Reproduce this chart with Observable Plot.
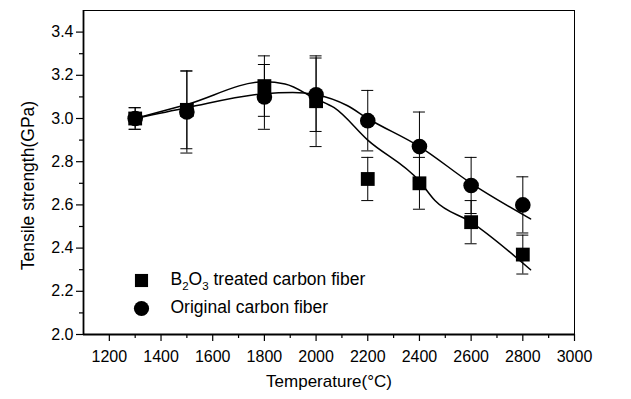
<!DOCTYPE html>
<html><head><meta charset="utf-8">
<script src="https://cdn.jsdelivr.net/npm/d3@7"></script>
<script src="https://cdn.jsdelivr.net/npm/@observablehq/plot@0.6"></script>
<style>
body{margin:0;background:#fff}
#chart svg{display:block}
</style>
</head><body><div id="chart"></div>
<script>
// Measured points (temperature in °C, tensile strength in GPa)
const temps = [1300, 1500, 1800, 2000, 2200, 2400, 2600, 2800];
const treatedStrength = [3.00, 3.04, 3.15, 3.08, 2.72, 2.70, 2.52, 2.37];
const treatedError    = [0.05, 0.18, 0.14, 0.21, 0.10, 0.12, 0.10, 0.09];
const originalStrength = [3.00, 3.03, 3.10, 3.11, 2.99, 2.87, 2.69, 2.60];
const originalError    = [0.05, 0.19, 0.15, 0.17, 0.14, 0.16, 0.13, 0.13];

// Fitted curves
const treatedFitT = [1300, 1500, 1800, 1880, 2000, 2070, 2200, 2400, 2460, 2600, 2830];
const treatedFitS = [3.00, 3.065, 3.17, 3.16, 3.09, 3.05, 2.90, 2.71, 2.62, 2.52, 2.30];
const originalFitT = [1300, 1500, 1800, 1910, 2000, 2120, 2200, 2400, 2600, 2830];
const originalFitS = [3.00, 3.05, 3.115, 3.12, 3.11, 3.06, 3.00, 2.87, 2.70, 2.535];

// Axes
const xMajor = [1200, 1400, 1600, 1800, 2000, 2200, 2400, 2600, 2800, 3000];
const xMinor = [1300, 1500, 1700, 1900, 2100, 2300, 2500, 2700, 2900];
const yMajor = [2.0, 2.2, 2.4, 2.6, 2.8, 3.0, 3.2, 3.4];
const yMinor = [2.1, 2.3, 2.5, 2.7, 2.9, 3.1, 3.3];
const xTitle = "Temperature(°C)";
const yTitle = "Tensile strength(GPa)";
const seriesNames = ["B2O3 treated carbon fiber", "Original carbon fiber"];
const seriesSymbols = ["square", "circle"];

const treated = temps.map((t, i) => ({t, s: treatedStrength[i], e: treatedError[i]}));
const original = temps.map((t, i) => ({t, s: originalStrength[i], e: originalError[i]}));
const points = [...treated, ...original];
const treatedFit = treatedFitT.map((t, i) => ({t, s: treatedFitS[i]}));
const originalFit = originalFitT.map((t, i) => ({t, s: originalFitS[i]}));
const legend = seriesNames.map((name, i) => ({name, symbol: seriesSymbols[i], i}));

const font = "'Liberation Sans', Arial, Helvetica, sans-serif";

const chart = Plot.plot({
  width: 631,
  height: 399,
  marginLeft: 83,
  marginRight: 57,
  marginTop: 10,
  marginBottom: 65,
  style: {fontFamily: font, fontSize: "16px", color: "black", background: "white"},
  x: {domain: [1100, 3000]},
  y: {domain: [2.0, 3.5]},
  marks: [
    Plot.frame({stroke: "black", strokeWidth: 1}),
    Plot.ruleX([1100], {strokeWidth: 1.8}),
    Plot.ruleY([2.0], {strokeWidth: 1.8}),
    Plot.axisX({ticks: xMajor, tickSize: 7, tickPadding: 9, tickFormat: d => String(d), label: null, fontSize: 16, strokeWidth: 1.2}),
    Plot.axisX({ticks: xMinor, tickSize: 4, tickFormat: () => "", label: null, strokeWidth: 1.2}),
    Plot.axisY({ticks: yMajor, tickSize: 7, tickPadding: 3, tickFormat: d => d.toFixed(1), label: null, fontSize: 16, strokeWidth: 1.2}),
    Plot.axisY({ticks: yMinor, tickSize: 4, tickFormat: () => "", label: null, strokeWidth: 1.2}),
    // error bars
    Plot.ruleX(points, {x: "t", y1: d => d.s - d.e, y2: d => d.s + d.e, stroke: "black", strokeWidth: 1}),
    Plot.ruleY(points, {y: d => d.s + d.e, x1: "t", x2: "t", insetLeft: -6, insetRight: -6, stroke: "black", strokeWidth: 1}),
    Plot.ruleY(points, {y: d => d.s - d.e, x1: "t", x2: "t", insetLeft: -6, insetRight: -6, stroke: "black", strokeWidth: 1}),
    // fitted lines
    Plot.line(treatedFit, {x: "t", y: "s", curve: "monotone-x", stroke: "black", strokeWidth: 1.5}),
    Plot.line(originalFit, {x: "t", y: "s", curve: "monotone-x", stroke: "black", strokeWidth: 1.5}),
    // markers
    Plot.dot(original, {x: "t", y: "s", symbol: "circle", r: 7.8, fill: "black", stroke: "none"}),
    Plot.dot(treated, {x: "t", y: "s", symbol: "square", r: 7.8, fill: "black", stroke: "none"}),
    // legend
    Plot.dot(legend, {frameAnchor: "bottom-left", dx: 58, dy: -54, symbol: "symbol", r: 7.4, fill: "black", stroke: "none", filter: d => d.i === 0}),
    Plot.dot(legend, {frameAnchor: "bottom-left", dx: 58, dy: -26, symbol: "symbol", r: 7.6, fill: "black", stroke: "none", filter: d => d.i === 1}),
    Plot.text(legend, {frameAnchor: "bottom-left", dx: 87, dy: -55, text: "name", textAnchor: "start", lineAnchor: "middle", fontSize: 17.5, fill: "black", filter: d => d.i === 0}),
    Plot.text(legend, {frameAnchor: "bottom-left", dx: 87, dy: -27, text: "name", textAnchor: "start", lineAnchor: "middle", fontSize: 17.5, fill: "black", filter: d => d.i === 1}),
    // axis titles
    Plot.text([xTitle], {frameAnchor: "bottom", dy: 47, text: d => d, textAnchor: "middle", lineAnchor: "middle", fontSize: 17, fill: "black"}),
    Plot.text([yTitle], {frameAnchor: "left", dx: -55, dy: 13, rotate: -90, text: d => d, textAnchor: "middle", lineAnchor: "middle", fontSize: 17.5, fill: "black"})
  ]
});
document.getElementById("chart").appendChild(chart);

// subscripts for B2O3 in the legend
chart.querySelectorAll("text").forEach(el => {
  if (el.textContent === seriesNames[0]) {
    const ns = "http://www.w3.org/2000/svg";
    el.textContent = "";
    const parts = [["B", 0], ["2", 1], ["O", 0], ["3", 1], [" treated carbon fiber", 0]];
    let shifted = false;
    for (const [str, sub] of parts) {
      const ts = document.createElementNS(ns, "tspan");
      ts.textContent = str;
      if (sub) { ts.setAttribute("dy", "5"); ts.setAttribute("font-size", "11.5"); shifted = true; }
      else if (shifted) { ts.setAttribute("dy", "-5"); shifted = false; }
      el.appendChild(ts);
    }
  }
});
</script>
</body></html>
